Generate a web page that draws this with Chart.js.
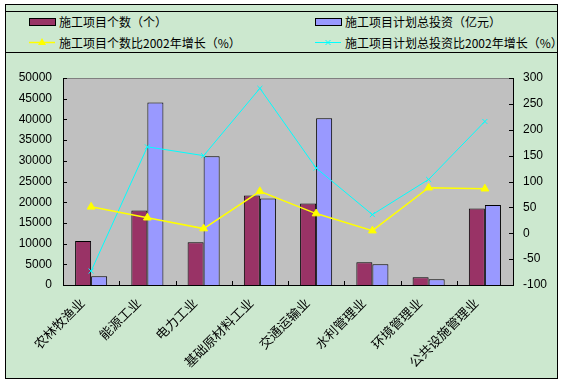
<!DOCTYPE html>
<html>
<head>
<meta charset="utf-8">
<script src="https://cdn.jsdelivr.net/npm/chart.js@4"></script>
<style>
  html, body { margin: 0; padding: 0; background: #fff; }
  body { width: 564px; height: 384px; position: relative; overflow: hidden; font-family: "Noto Sans CJK SC", sans-serif; }
  #frame { position: absolute; left: 5px; top: 4px; width: 553px; height: 375px; box-sizing: border-box; border: 1px solid #000; background: #CCE8CF; }
  #legendBox { position: absolute; left: 5px; top: 11px; width: 553px; height: 42px; box-sizing: border-box; border-top: 1px solid #000; border-bottom: 1px solid #000; }
  .lg { position: absolute; font-size: 12px; line-height: 14px; color: #000; white-space: nowrap; }
  .mk { position: absolute; }
  #c { position: absolute; left: 0; top: 0; }
</style>
</head>
<body>
<div id="frame"></div>
<div id="legendBox"></div>
<svg class="mk" style="left:29px;top:17px" width="27" height="10"><rect x="0.5" y="1.5" width="26" height="7" fill="#993366" stroke="#000"/></svg>
<div class="lg" style="left:59px;top:15px">施工项目个数（个）</div>
<svg class="mk" style="left:315px;top:17px" width="27" height="10"><rect x="0.5" y="1.5" width="26" height="7" fill="#9999FF" stroke="#000"/></svg>
<div class="lg" style="left:345px;top:15px">施工项目计划总投资（亿元）</div>
<svg class="mk" style="left:29px;top:36px" width="27" height="12"><line x1="0" y1="6.5" x2="26" y2="6.5" stroke="#FFFF00" stroke-width="1.5"/><polygon points="13,2 17,9 9,9" fill="#FFFF00"/></svg>
<div class="lg" style="left:59px;top:36px">施工项目个数比2002年增长（%）</div>
<svg class="mk" style="left:315px;top:36px" width="27" height="12"><line x1="0" y1="6.5" x2="26" y2="6.5" stroke="#00FFFF" stroke-width="1"/><path d="M10.5,4 L15.5,9 M15.5,4 L10.5,9" stroke="#00FFFF" stroke-width="1"/></svg>
<div class="lg" style="left:345px;top:36px">施工项目计划总投资比2002年增长（%）</div>
<canvas id="c" width="564" height="384"></canvas>
<script>
const categories = ['农林牧渔业', '能源工业', '电力工业', '基础原材料工业', '交通运输业', '水利管理业', '环境管理业', '公共设施管理业'];
const projectCount = [10600, 18000, 10300, 21600, 19700, 5500, 1900, 18500];
const investment = [2100, 44100, 31100, 20900, 40300, 5000, 1400, 19300];
const countGrowth = [51, 30, 9, 81, 38, 5, 88, 86];
const investGrowth = [-73, 167, 150, 280, 126, 36, 104, 216];

const numFont = { family: '"Liberation Sans", Arial, sans-serif', size: 12 };

// grey plot background, grey top line and the small inward tick marks
const plotFrame = {
  id: 'plotFrame',
  beforeDraw(chart) {
    const { ctx, chartArea: a } = chart;
    ctx.save();
    ctx.fillStyle = '#C0C0C0';
    ctx.fillRect(a.left, a.top, a.right - a.left, a.bottom - a.top);
    ctx.strokeStyle = '#808080';
    ctx.lineWidth = 1;
    ctx.beginPath();
    ctx.moveTo(a.left, a.top + 0.5);
    ctx.lineTo(a.right, a.top + 0.5);
    ctx.stroke();

    ctx.strokeStyle = '#000';
    ctx.beginPath();
    const yl = chart.scales.y, yr = chart.scales.y1, x = chart.scales.x;
    yl.ticks.forEach(t => {
      const p = Math.round(yl.getPixelForValue(t.value)) + 0.5;
      ctx.moveTo(a.left, p); ctx.lineTo(a.left + 4, p);
    });
    yr.ticks.forEach(t => {
      const p = Math.round(yr.getPixelForValue(t.value)) + 0.5;
      ctx.moveTo(a.right, p); ctx.lineTo(a.right - 4, p);
    });
    const step = x.getPixelForValue(1) - x.getPixelForValue(0);
    for (let i = 1; i < categories.length; i++) {
      const p = Math.round(x.getPixelForValue(i) - step / 2) + 0.5;
      ctx.moveTo(p, a.bottom); ctx.lineTo(p, a.bottom - 4);
    }
    ctx.stroke();
    ctx.restore();
  }
};

new Chart(document.getElementById('c'), {
  data: {
    labels: categories,
    datasets: [
      {
        type: 'line',
        label: '施工项目个数比2002年增长（%）',
        data: countGrowth,
        yAxisID: 'y1',
        borderColor: '#FFFF00',
        backgroundColor: '#FFFF00',
        borderWidth: 1.5,
        pointStyle: 'triangle',
        pointRadius: 4.5,
        pointBorderWidth: 1,
        tension: 0,
        order: 0
      },
      {
        type: 'line',
        label: '施工项目计划总投资比2002年增长（%）',
        data: investGrowth,
        yAxisID: 'y1',
        borderColor: '#00FFFF',
        backgroundColor: '#00FFFF',
        borderWidth: 1,
        pointStyle: 'crossRot',
        pointRadius: 3.5,
        pointBorderWidth: 1,
        tension: 0,
        order: 0
      },
      {
        type: 'bar',
        label: '施工项目个数（个）',
        data: projectCount,
        yAxisID: 'y',
        backgroundColor: '#993366',
        borderColor: '#000',
        borderWidth: 1,
        categoryPercentage: 0.57,
        barPercentage: 1,
        order: 1
      },
      {
        type: 'bar',
        label: '施工项目计划总投资（亿元）',
        data: investment,
        yAxisID: 'y',
        backgroundColor: '#9999FF',
        borderColor: '#000',
        borderWidth: 1,
        categoryPercentage: 0.57,
        barPercentage: 1,
        order: 1
      }
    ]
  },
  options: {
    responsive: false,
    animation: false,
    layout: { padding: { top: 78, left: 0, right: 0, bottom: 0 } },
    plugins: { legend: { display: false }, tooltip: { enabled: false } },
    scales: {
      x: {
        offset: true,
        grid: { display: false, drawTicks: false },
        border: { display: true, color: '#000', width: 1 },
        ticks: {
          color: '#000',
          font: { family: '"Noto Sans CJK SC", sans-serif', size: 13 },
          maxRotation: 45,
          minRotation: 45,
          padding: 10,
          labelOffset: -9,
          autoSkip: false
        },
        afterFit(s) { s.height = 99; }
      },
      y: {
        position: 'left',
        min: 0,
        max: 50000,
        grid: { display: false, drawTicks: false },
        border: { display: true, color: '#000', width: 1 },
        ticks: { stepSize: 5000, color: '#000', font: numFont, padding: 11, callback: v => String(v) },
        afterFit(s) { s.width = 63; }
      },
      y1: {
        position: 'right',
        min: -100,
        max: 300,
        grid: { display: false, drawTicks: false },
        border: { display: true, color: '#000', width: 1 },
        ticks: { stepSize: 50, color: '#000', font: numFont, padding: 10, callback: v => String(v) },
        afterFit(s) { s.width = 51; }
      }
    }
  },
  plugins: [plotFrame]
});
</script>
</body>
</html>
